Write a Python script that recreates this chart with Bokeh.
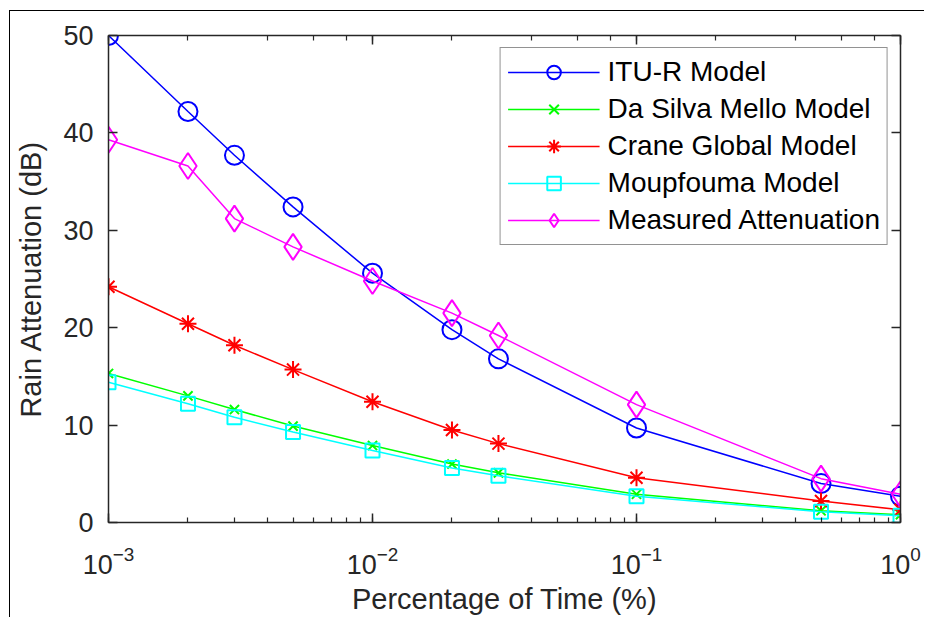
import math
from bokeh.plotting import figure
from bokeh.models import (Range1d, LogAxis, LinearAxis, Legend, LegendItem,
                          FixedTicker)
from bokeh.embed import file_html
from bokeh.resources import INLINE

# ---- data ----
pct = [0.001, 0.002, 0.003, 0.005, 0.01, 0.02, 0.03, 0.1, 0.5, 1.0]
itu_r = [50.0, 42.2, 37.7, 32.4, 25.6, 19.8, 16.8, 9.7, 4.0, 2.7]
da_silva_mello = [15.3, 13.0, 11.6, 9.9, 7.9, 6.0, 5.1, 2.9, 1.2, 0.8]
crane_global = [24.2, 20.4, 18.2, 15.7, 12.4, 9.5, 8.1, 4.6, 2.2, 1.3]
moupfouma = [14.4, 12.2, 10.8, 9.3, 7.4, 5.6, 4.8, 2.7, 1.1, 0.7]
measured = [39.3, 36.6, 31.2, 28.3, 24.8, 21.5, 19.2, 12.1, 4.5, 2.9]

series_names = ["ITU-R Model", "Da Silva Mello Model", "Crane Global Model",
                "Moupfouma Model", "Measured Attenuation"]
y_ticks = [0, 10, 20, 30, 40, 50]
x_label = "Percentage of Time (%)"
y_label = "Rain Attenuation (dB)"

AX = "#262626"
FONT = "Liberation Sans"

p = figure(width=915, height=607, x_axis_type="log",
           x_range=Range1d(1e-3, 1.0), y_range=Range1d(0, 50),
           output_backend="svg", toolbar_location=None,
           min_border_left=98, min_border_right=25,
           min_border_top=24, min_border_bottom=96)
p.xgrid.visible = False
p.ygrid.visible = False
p.outline_line_color = None
p.background_fill_color = "white"
p.border_fill_color = "white"
p.styles = {"margin-left": "9px", "margin-top": "10px",
            "border-left": "1px solid #000", "border-top": "1px solid #000"}


def style_axis(ax, labels=True, minor=True):
    ax.axis_line_color = AX
    ax.axis_line_width = 1.5
    ax.major_tick_line_color = AX
    ax.major_tick_line_width = 1.5
    ax.major_tick_in = 9
    ax.major_tick_out = 0
    if minor:
        ax.minor_tick_line_color = AX
        ax.minor_tick_line_width = 1.2
        ax.minor_tick_in = 5
        ax.minor_tick_out = 0
    else:
        ax.minor_tick_line_color = None
    ax.major_label_text_font = FONT
    ax.major_label_text_color = AX
    if labels:
        ax.major_label_text_font_size = "27px"
    else:
        ax.major_label_text_font_size = "2px"
        ax.major_label_text_alpha = 0.0
        ax.major_label_standoff = 0


xa = p.xaxis[0]
style_axis(xa)
xa.major_label_standoff = 23
xa.axis_label = x_label
xa.axis_label_standoff = 6
xa.axis_label_text_font = FONT
xa.axis_label_text_font_size = "29px"
xa.axis_label_text_font_style = "normal"
xa.axis_label_text_color = AX

ya = p.yaxis[0]
ya.ticker = FixedTicker(ticks=y_ticks)
style_axis(ya, minor=False)
ya.major_label_standoff = 15
ya.axis_label = y_label
ya.axis_label_standoff = 13
ya.axis_label_text_font = FONT
ya.axis_label_text_font_size = "29px"
ya.axis_label_text_font_style = "normal"
ya.axis_label_text_color = AX

top = LogAxis()
style_axis(top, labels=False)
p.add_layout(top, "above")
right = LinearAxis(ticker=FixedTicker(ticks=y_ticks))
style_axis(right, labels=False, minor=False)
p.add_layout(right, "right")

series = [
    (itu_r, "#0000ff", "circle", 19),
    (da_silva_mello, "#00ff00", "x", 13),
    (crane_global, "#ff0000", "asterisk", 17),
    (moupfouma, "#00ffff", "square", 14),
    (measured, "#ff00ff", "diamond", 26),
]

items = []
for name, (vals, color, marker, size) in zip(series_names, series):
    ln = p.line(pct, vals, line_color=color, line_width=1.5)
    sc = p.scatter(pct, vals, marker=marker, size=size, line_color=color,
                   fill_color=None, line_width=2)
    items.append(LegendItem(label=name, renderers=[ln, sc]))

legend = Legend(items=items, location="top_right", margin=12,
                border_line_color=AX, border_line_width=1.5,
                background_fill_color="white", background_fill_alpha=1.0,
                label_text_font=FONT, label_text_font_size="28px",
                label_text_color="#000000",
                glyph_width=92, glyph_height=34, label_height=34,
                label_standoff=8, spacing=3, padding=7)
p.add_layout(legend)

open("out.html", "w").write(file_html(p, INLINE))
